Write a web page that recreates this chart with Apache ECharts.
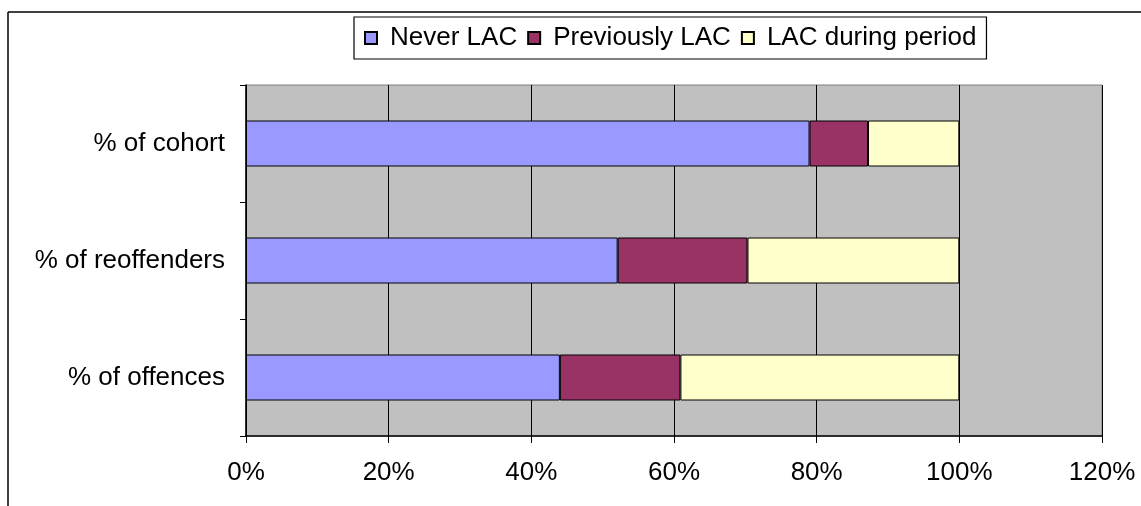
<!DOCTYPE html>
<html><head><meta charset="utf-8">
<script src="https://cdn.jsdelivr.net/npm/echarts@6/dist/echarts.min.js"></script>
<style>html,body{margin:0;padding:0;background:#fff}#c{width:1141px;height:506px}</style>
</head><body><div id="c"></div>
<script>
const categories = ['% of cohort', '% of reoffenders', '% of offences'];
const neverLAC = [79.0, 52.1, 44.0];
const previouslyLAC = [8.2, 18.2, 16.9];
const lacDuringPeriod = [12.8, 29.7, 39.1];
const xTicks = [0, 20, 40, 60, 80, 100, 120];

const chart = echarts.init(document.getElementById('c'));
const font = 'Liberation Sans, Arial, sans-serif';
function bar(name, data, color) {
  return {
    name, type: 'bar', stack: 'total', data, barWidth: 46,
    itemStyle: { color, borderColor: '#000', borderWidth: 1 },
    emphasis: { disabled: true }
  };
}
chart.setOption({
  animation: false,
  textStyle: { fontFamily: font },
  graphic: [
    { type: 'line', shape: { x1: 8, y1: 12, x2: 1141, y2: 12 }, style: { stroke: '#000', lineWidth: 1.5 } },
    { type: 'line', shape: { x1: 8, y1: 12, x2: 8, y2: 506 }, style: { stroke: '#000', lineWidth: 1.5 } }
  ],
  legend: {
    left: 354, top: 17, itemWidth: 12, itemHeight: 12, itemGap: 10,
    padding: [8, 10, 8, 10],
    borderColor: '#000', borderWidth: 1.2,
    icon: 'rect',
    textStyle: { fontSize: 26, color: '#000', fontFamily: font, padding: [0, 0, 0, 8] },
    data: ['Never LAC', 'Previously LAC', 'LAC during period']
  },
  grid: {
    left: 246, right: 39, top: 85, bottom: 70, show: true,
    backgroundColor: '#C0C0C0', borderColor: '#808080', borderWidth: 1
  },
  xAxis: {
    type: 'value', min: xTicks[0], max: xTicks[xTicks.length - 1], interval: 20,
    axisLine: { show: true, lineStyle: { color: '#000', width: 1.5 } },
    axisTick: { show: true, length: 7, lineStyle: { color: '#000' } },
    axisLabel: { formatter: v => v + '%', fontSize: 26, color: '#000', margin: 24, fontFamily: font },
    splitLine: { show: true, lineStyle: { color: '#000', width: 1 } }
  },
  yAxis: {
    type: 'category', data: categories, inverse: true,
    axisLine: { show: true, lineStyle: { color: '#000', width: 1.5 } },
    axisTick: { show: true, length: 6, lineStyle: { color: '#000' } },
    axisLabel: { fontSize: 26, color: '#000', margin: 21, fontFamily: font },
    splitLine: { show: false }
  },
  series: [
    bar('Never LAC', neverLAC, '#9999FF'),
    bar('Previously LAC', previouslyLAC, '#993366'),
    bar('LAC during period', lacDuringPeriod, '#FFFFCC')
  ]
});
</script></body></html>
